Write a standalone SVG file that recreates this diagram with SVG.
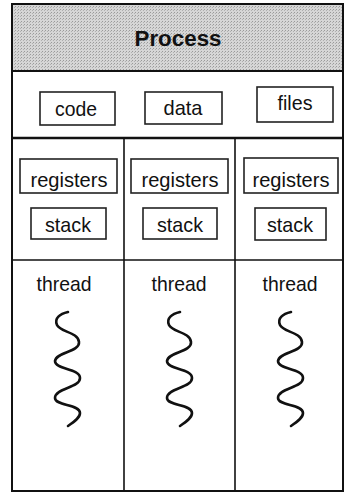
<svg xmlns="http://www.w3.org/2000/svg" width="344" height="493" viewBox="0 0 344 493">
<defs>
<style>
.frame{fill:none;stroke:#111;stroke-width:2}
.div{stroke:#111;stroke-width:1.6;fill:none}
.box{fill:#fff;stroke:#222;stroke-width:1.6}
.t{font-family:"Liberation Sans",Arial,Helvetica,sans-serif;font-size:21px;fill:#111;text-anchor:middle}
.title{font-family:"Liberation Sans",Arial,Helvetica,sans-serif;font-size:22px;font-weight:bold;fill:#111;text-anchor:middle}
.sq{fill:none;stroke:#111;stroke-width:2.6;stroke-linecap:round}
</style>
<pattern id="dots" width="3" height="3" patternUnits="userSpaceOnUse">
<rect width="3" height="3" fill="#d6d6d6"/>
<rect x="0" y="0" width="1" height="1" fill="#9a9a9a"/>
<rect x="2" y="1" width="1" height="1" fill="#b0b0b0"/>
</pattern>
<path id="squiggle" d="M 68 312 C 60 314, 54 318, 57 325 C 60 332, 78 332, 79 342 C 80 352, 56 352, 55 361 C 55 370, 80 368, 80 378 C 80 388, 55 388, 55 398 C 55 406, 80 404, 80 413 C 80 418, 74 422, 68 426"/>
</defs>
<rect x="0" y="0" width="344" height="493" fill="#fff"/>

<g id="process">
<rect x="12" y="4" width="331" height="67" fill="url(#dots)"/>
<rect x="12" y="4" width="331" height="487" class="frame"/>
<line x1="12" y1="71" x2="343" y2="71" stroke="#111" stroke-width="2"/>
<text class="title" x="178" y="46" textLength="87" lengthAdjust="spacingAndGlyphs">Process</text>
</g>

<g id="connectors">
<line x1="12" y1="138" x2="343" y2="138" stroke="#111" stroke-width="2.5"/>
<line x1="12" y1="260" x2="343" y2="260" class="div"/>
<line x1="124" y1="138" x2="124" y2="491" class="div"/>
<line x1="235" y1="138" x2="235" y2="491" class="div"/>
</g>

<g id="code">
<rect x="40" y="92" width="75" height="33" class="box"/>
<text class="t" x="76" y="116" textLength="42" lengthAdjust="spacingAndGlyphs">code</text>
</g>
<g id="data">
<rect x="145" y="92" width="77" height="32" class="box"/>
<text class="t" x="183" y="115" textLength="39" lengthAdjust="spacingAndGlyphs">data</text>
</g>
<g id="files">
<rect x="257" y="87" width="76" height="35" class="box"/>
<text class="t" x="295" y="110" textLength="35" lengthAdjust="spacingAndGlyphs">files</text>
</g>

<g id="thread1">
<rect x="20" y="159" width="97" height="34" class="box"/>
<text class="t" x="69" y="187" textLength="77" lengthAdjust="spacingAndGlyphs">registers</text>
<rect x="31" y="208" width="75" height="31" class="box"/>
<text class="t" x="68" y="232" textLength="46" lengthAdjust="spacingAndGlyphs">stack</text>
<text class="t" x="64" y="291" textLength="55" lengthAdjust="spacingAndGlyphs">thread</text>
<use href="#squiggle" class="sq"/>
</g>

<g id="thread2">
<rect x="131" y="159" width="97" height="34" class="box"/>
<text class="t" x="180" y="187" textLength="77" lengthAdjust="spacingAndGlyphs">registers</text>
<rect x="143" y="208" width="74" height="31" class="box"/>
<text class="t" x="180" y="232" textLength="46" lengthAdjust="spacingAndGlyphs">stack</text>
<text class="t" x="179" y="291" textLength="55" lengthAdjust="spacingAndGlyphs">thread</text>
<use href="#squiggle" class="sq" transform="translate(112,0)"/>
</g>

<g id="thread3">
<rect x="244" y="158" width="94" height="35" class="box"/>
<text class="t" x="291" y="187" textLength="77" lengthAdjust="spacingAndGlyphs">registers</text>
<rect x="255" y="208" width="71" height="32" class="box"/>
<text class="t" x="290" y="232" textLength="46" lengthAdjust="spacingAndGlyphs">stack</text>
<text class="t" x="290" y="291" textLength="55" lengthAdjust="spacingAndGlyphs">thread</text>
<use href="#squiggle" class="sq" transform="translate(223,0)"/>
</g>
</svg>
